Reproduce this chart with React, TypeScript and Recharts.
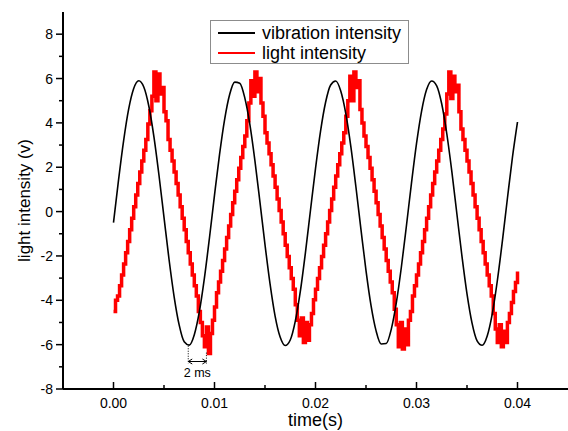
import { LineChart, Line, XAxis, YAxis, ReferenceLine } from 'recharts';

const FONT = '"Liberation Sans", Arial, sans-serif';

// vibration intensity, sampled every 0.5 ms from t = 0 to 0.04 s
const vibrationStep = 0.0005;
const vibrationValues = [
  -0.5, 1.43, 3.19, 4.62, 5.55, 5.9, 5.62, 4.75, 3.38, 1.65,
  -0.26, -2.16, -3.83, -5.11, -5.87, -6.02, -5.55, -4.51, -3.0, -1.19,
  0.74, 2.58, 4.15, 5.28, 5.84, 5.79, 5.13, 3.93, 2.3, 0.43,
  -1.49, -3.26, -4.71, -5.66, -6.04, -5.79, -4.94, -3.59, -1.86, 0.05,
  1.94, 3.63, 4.93, 5.71, 5.89, 5.44, 4.42, 2.93, 1.12, -0.8,
  -2.66, -4.24, -5.38, -5.97, -5.95, -5.31, -4.12, -2.51, -0.65, 1.27,
  3.06, 4.52, 5.5, 5.89, 5.67, 4.85, 3.51, 1.8, -0.11, -2.01,
  -3.71, -5.03, -5.83, -6.03, -5.61, -4.61, -3.13, -1.34, 0.59, 2.45,
  4.04,
];

// light intensity, sampled every 0.2 ms from t = 0 to 0.04 s
const lightStep = 0.0002;
const lightValues = [
  -4.5, -4.0, -3.81, -3.34, -2.86, -2.36, -1.86, -1.35, -0.82, -0.3,
  0.22, 0.75, 1.27, 1.78, 2.28, 2.77, 3.25, 3.95, 4.55, 5.2,
  6.3, 5.0, 6.2, 5.3, 5.6, 4.5, 4.1, 3.25, 2.77, 2.28,
  1.78, 1.27, 0.75, 0.22, -0.3, -0.82, -1.35, -1.86, -2.36, -2.86,
  -3.34, -3.81, -4.5, -5.0, -5.6, -6.1, -5.2, -6.4, -5.5, -4.9,
  -4.3, -3.66, -3.18, -2.69, -2.2, -1.69, -1.17, -0.65, -0.13, 0.4,
  0.92, 1.44, 1.95, 2.44, 2.93, 3.41, 4.1, 4.9, 5.9, 5.2,
  6.3, 5.4, 6.0, 4.9, 4.3, 3.56, 3.09, 2.61, 2.11, 1.61,
  1.1, 0.57, 0.05, -0.47, -1.0, -1.52, -2.03, -2.53, -3.02, -3.5,
  -4.2, -4.9, -5.6, -4.8, -5.9, -5.0, -5.8, -5.1, -4.6, -3.97,
  -3.5, -3.02, -2.53, -2.03, -1.52, -1.0, -0.47, 0.05, 0.57, 1.1,
  1.61, 2.11, 2.61, 3.09, 3.56, 4.3, 5.0, 6.1, 5.0, 6.3,
  5.6, 5.9, 4.6, 4.0, 3.41, 2.93, 2.44, 1.95, 1.44, 0.92,
  0.4, -0.13, -0.65, -1.17, -1.69, -2.2, -2.69, -3.18, -3.66, -4.4,
  -5.1, -6.1, -5.0, -6.2, -5.3, -6.0, -4.9, -4.5, -3.81, -3.34,
  -2.86, -2.36, -1.86, -1.35, -0.82, -0.3, 0.22, 0.75, 1.27, 1.78,
  2.28, 2.77, 3.25, 3.72, 4.4, 5.3, 6.3, 5.1, 6.1, 5.4,
  5.7, 4.5, 3.72, 3.25, 2.77, 2.28, 1.78, 1.27, 0.75, 0.22,
  -0.3, -0.82, -1.35, -1.86, -2.36, -2.86, -3.34, -3.81, -4.6, -5.3,
  -5.9, -5.1, -6.1, -5.4, -5.9, -5.0, -4.6, -4.1, -3.6, -3.2,
  -2.7,
];

const xTicks = [0, 0.005, 0.01, 0.015, 0.02, 0.025, 0.03, 0.035, 0.04];
const yTicks = [-8, -7, -6, -5, -4, -3, -2, -1, 0, 1, 2, 3, 4, 5, 6, 7, 8];

// black trough -> red trough, shown as "2 ms"
const lagStart = 0.0074;
const lagEnd = 0.0092;

const vibrationData = vibrationValues.map((v, i) => ({ t: i * vibrationStep, v }));
const lightData = lightValues.map((v, i) => ({ t: i * lightStep, v }));

const isMajorX = (v: number) => Math.abs(Math.round(v * 100) - v * 100) < 1e-6;
const isMajorY = (v: number) => Math.round(v) % 2 === 0;

const BottomTick = ({ x, y, payload }: any) => {
  const major = isMajorX(payload.value);
  return (
    <g>
      <line x1={x} y1={y} x2={x} y2={y - (major ? 7 : 4)} stroke="#000" strokeWidth={1.5} />
      {major && (
        <text x={x} y={y + 19} textAnchor="middle" fontSize={14} fontFamily={FONT} fill="#000">
          {payload.value.toFixed(2)}
        </text>
      )}
    </g>
  );
};

const TopTick = ({ x, y, payload }: any) => {
  const major = isMajorX(payload.value);
  return <line x1={x} y1={y} x2={x} y2={y + (major ? 7 : 4)} stroke="#000" strokeWidth={1.5} />;
};

const LeftTick = ({ x, y, payload }: any) => {
  const major = isMajorY(payload.value);
  return (
    <g>
      <line x1={x} y1={y} x2={x - (major ? 7 : 4)} y2={y} stroke="#000" strokeWidth={1.5} />
      {major && (
        <text x={x - 10} y={y + 5} textAnchor="end" fontSize={14} fontFamily={FONT} fill="#000">
          {String(payload.value)}
        </text>
      )}
    </g>
  );
};

const RightTick = ({ x, y, payload }: any) => {
  const major = isMajorY(payload.value);
  return <line x1={x} y1={y} x2={x - (major ? 7 : 4)} y2={y} stroke="#000" strokeWidth={1.5} />;
};

const ArrowShape = ({ x1, y1, x2 }: any) => (
  <g>
    <line x1={x1} y1={y1} x2={x2} y2={y1} stroke="#000" strokeWidth={1} />
    <path d={`M${x1 + 4},${y1 - 2.5} L${x1},${y1} L${x1 + 4},${y1 + 2.5}`} fill="none" stroke="#000" strokeWidth={1} />
    <path d={`M${x2 - 4},${y1 - 2.5} L${x2},${y1} L${x2 - 4},${y1 + 2.5}`} fill="none" stroke="#000" strokeWidth={1} />
    <text x={(x1 + x2) / 2} y={y1 + 15} textAnchor="middle" fontSize={12.5} fontFamily={FONT} fill="#000">
      2 ms
    </text>
  </g>
);

const axisLine = { stroke: '#000', strokeWidth: 2 };

export default function App() {
  return (
    <div style={{ position: 'absolute', left: 0, top: 0, width: 568, height: 431, overflow: 'hidden', background: '#fff' }}>
      <LineChart width={569} height={431} margin={{ top: 12, right: 1, bottom: 0, left: 0 }}>
        <XAxis
          dataKey="t"
          type="number"
          domain={[-0.005, 0.045]}
          ticks={xTicks}
          interval={0}
          allowDataOverflow
          height={42}
          tickSize={0}
          tickMargin={0}
          tickLine={false}
          axisLine={axisLine}
          tick={<BottomTick />}
          label={({ viewBox }: any) => (
            <text
              x={viewBox.x + viewBox.width / 2}
              y={viewBox.y + 37}
              textAnchor="middle"
              fontSize={18}
              fontFamily={FONT}
              fill="#000"
            >
              time(s)
            </text>
          )}
        />
        <XAxis
          xAxisId="top"
          orientation="top"
          dataKey="t"
          type="number"
          domain={[-0.005, 0.045]}
          ticks={xTicks}
          interval={0}
          allowDataOverflow
          height={0}
          tickSize={0}
          tickMargin={0}
          tickLine={false}
          axisLine={axisLine}
          tick={<TopTick />}
        />
        <YAxis
          type="number"
          domain={[-8, 9]}
          ticks={yTicks}
          interval={0}
          allowDataOverflow
          width={63}
          tickSize={0}
          tickMargin={0}
          tickLine={false}
          axisLine={axisLine}
          tick={<LeftTick />}
          label={({ viewBox }: any) => {
            const cx = 24;
            const cy = viewBox.y + viewBox.height / 2;
            return (
              <text
                x={cx}
                y={cy}
                transform={`rotate(-90 ${cx} ${cy})`}
                textAnchor="middle"
                dominantBaseline="central"
                fontSize={17}
                fontFamily={FONT}
                fill="#000"
              >
                light intensity (v)
              </text>
            );
          }}
        />
        <YAxis
          yAxisId="right"
          orientation="right"
          type="number"
          domain={[-8, 9]}
          ticks={yTicks}
          interval={0}
          allowDataOverflow
          width={0}
          tickSize={0}
          tickMargin={0}
          tickLine={false}
          axisLine={axisLine}
          tick={<RightTick />}
        />
        <Line
          data={lightData}
          dataKey="v"
          name="light intensity"
          type="stepAfter"
          stroke="#ff0000"
          strokeWidth={3.5}
          dot={false}
          activeDot={false}
          isAnimationActive={false}
        />
        <Line
          data={vibrationData}
          dataKey="v"
          name="vibration intensity"
          type="monotone"
          stroke="#000"
          strokeWidth={1.6}
          dot={false}
          activeDot={false}
          isAnimationActive={false}
        />
        <ReferenceLine
          segment={[{ x: lagStart, y: -6.05 }, { x: lagStart, y: -6.85 }]}
          stroke="#000"
          strokeWidth={1}
          strokeDasharray="1 1.5"
          ifOverflow="visible"
        />
        <ReferenceLine
          segment={[{ x: lagEnd, y: -6.36 }, { x: lagEnd, y: -6.85 }]}
          stroke="#000"
          strokeWidth={1}
          strokeDasharray="1 1.5"
          ifOverflow="visible"
        />
        <ReferenceLine
          segment={[{ x: lagStart, y: -6.76 }, { x: lagEnd, y: -6.76 }]}
          shape={<ArrowShape />}
          ifOverflow="visible"
        />
      </LineChart>
      <div
        style={{
          position: 'absolute',
          left: 210,
          top: 20,
          width: 197,
          height: 42,
          border: '1px solid #8c8c8c',
          background: '#fff',
          fontFamily: FONT,
          fontSize: 18,
          color: '#000',
        }}
      >
        {[
          { label: 'vibration intensity', color: '#000' },
          { label: 'light intensity', color: '#ff0000' },
        ].map((item, i) => (
          <div key={item.label} style={{ position: 'absolute', left: 7, top: 2 + i * 20, height: 20, display: 'flex', alignItems: 'center', whiteSpace: 'nowrap' }}>
            <span style={{ display: 'inline-block', width: 37, height: 1.5, background: item.color, marginRight: 7 }} />
            <span>{item.label}</span>
          </div>
        ))}
      </div>
    </div>
  );
}
